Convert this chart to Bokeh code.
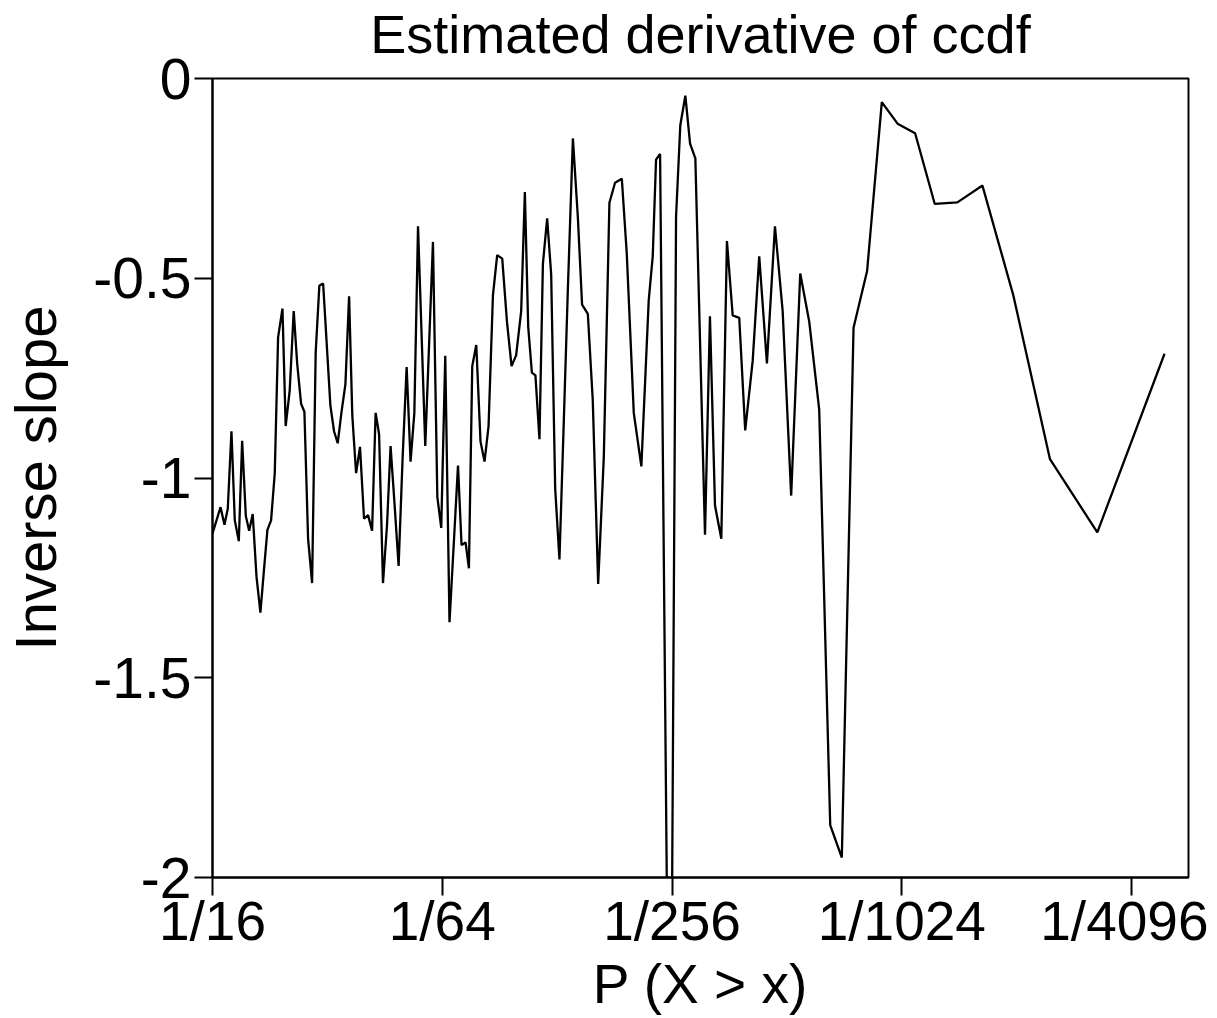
from bokeh.plotting import figure
from bokeh.models import Range1d, FixedTicker, LinearAxis
from bokeh.embed import file_html
from bokeh.resources import INLINE

# x: log2(1/P) ; y: inverse slope
log2_inv_p = [4.000, 4.070, 4.104, 4.133, 4.165, 4.194, 4.229, 4.258, 4.290, 4.319,
              4.350, 4.383, 4.417, 4.446, 4.478, 4.510, 4.542, 4.571, 4.609, 4.637,
              4.672, 4.707, 4.737, 4.771, 4.800, 4.832, 4.867, 4.898, 4.930, 4.963,
              5.026, 5.058, 5.090, 5.122, 5.157, 5.189, 5.217, 5.250, 5.284, 5.319,
              5.354, 5.389, 5.420, 5.450, 5.484, 5.519, 5.550, 5.585, 5.620, 5.655,
              5.690, 5.724, 5.757, 5.789, 5.852, 5.919, 5.957, 5.991, 6.026, 6.063,
              6.137, 6.168, 6.203, 6.232, 6.261, 6.296, 6.333, 6.368, 6.403, 6.441,
              6.478, 6.522, 6.563, 6.603, 6.643, 6.687, 6.719, 6.748, 6.780, 6.811,
              6.846, 6.876, 6.913, 6.948, 6.983, 7.020, 7.058, 7.093, 7.137, 7.180,
              7.217, 7.267, 7.310, 7.357, 7.406, 7.455, 7.504, 7.563, 7.606, 7.667,
              7.733, 7.797, 7.832, 7.861, 7.896, 7.983, 8.035, 8.072, 8.116, 8.157,
              8.203, 8.287, 8.330, 8.374, 8.429, 8.478, 8.528, 8.585, 8.637, 8.702,
              8.759, 8.826, 8.896, 8.963, 9.037, 9.116, 9.194, 9.281, 9.377, 9.478,
              9.580, 9.698, 9.826, 9.963, 10.116, 10.287, 10.484, 10.702, 10.971, 11.290,
              11.702, 12.287]

inverse_slope = [-1.139, -1.073, -1.117, -1.077, -0.883, -1.106, -1.158, -0.907, -1.095, -1.132,
                 -1.090, -1.247, -1.337, -1.237, -1.130, -1.106, -0.988, -0.648, -0.576, -0.870,
                 -0.781, -0.582, -0.713, -0.814, -0.834, -1.152, -1.263, -0.687, -0.519, -0.513,
                 -0.818, -0.883, -0.913, -0.837, -0.765, -0.545, -0.844, -0.988, -0.922, -1.102,
                 -1.093, -1.132, -0.837, -0.890, -1.263, -1.119, -0.920, -1.067, -1.220, -0.949,
                 -0.722, -0.959, -0.837, -0.370, -0.920, -0.409, -1.047, -1.125, -0.694, -1.361,
                 -0.969, -1.168, -1.161, -1.226, -0.720, -0.667, -0.909, -0.959, -0.870, -0.543,
                 -0.442, -0.451, -0.608, -0.720, -0.693, -0.582, -0.284, -0.621, -0.736, -0.743,
                 -0.903, -0.464, -0.350, -0.490, -1.027, -1.204, -0.857, -0.530, -0.150, -0.346,
                 -0.566, -0.589, -0.805, -1.265, -0.949, -0.311, -0.261, -0.251, -0.438, -0.837,
                 -0.971, -0.556, -0.445, -0.203, -0.189, -2.900, -0.346, -0.117, -0.043, -0.163,
                 -0.200, -1.142, -0.595, -1.069, -1.152, -0.407, -0.593, -0.599, -0.881, -0.707,
                 -0.445, -0.713, -0.370, -0.582, -1.044, -0.488, -0.608, -0.828, -1.869, -1.950,
                 -0.624, -0.482, -0.059, -0.113, -0.137, -0.314, -0.310, -0.268, -0.543, -0.953,
                 -1.136, -0.689]

x_ticks = [4, 6, 8, 10, 12]
x_tick_labels = ["1/16", "1/64", "1/256", "1/1024", "1/4096"]
y_ticks = [0, -0.5, -1, -1.5, -2]
y_tick_labels = ["0", "-0.5", "-1", "-1.5", "-2"]
title_text = "Estimated derivative of ccdf"

FONT = "Liberation Sans"
FRAME_W, FRAME_H = 977, 800

p = figure(width=1208, height=1017, output_backend="svg", toolbar_location=None,
           x_range=Range1d(4, 4 + FRAME_W / 115), y_range=Range1d(-2, 0),
           min_border_left=211, min_border_right=20, min_border_top=78, min_border_bottom=139)

p.line(log2_inv_p, inverse_slope, line_color="black", line_width=2.3)

xax = p.below[0]
yax = p.left[0]

# title: an empty axis above the frame whose axis label carries the title text
title_axis = LinearAxis(ticker=FixedTicker(ticks=[]), axis_label=title_text,
                        axis_line_color=None, major_tick_out=0, major_tick_in=0,
                        minor_tick_out=0, minor_tick_in=0, major_label_standoff=0,
                        axis_label_standoff=15,
                        axis_label_text_font=FONT, axis_label_text_font_size="54px",
                        axis_label_text_font_style="normal", axis_label_text_color="black")
p.add_layout(title_axis, "above")

p.xgrid.visible = False
p.ygrid.visible = False
p.outline_line_color = "black"
p.outline_line_width = 2
p.outline_line_alpha = 1

xax.ticker = FixedTicker(ticks=x_ticks)
xax.major_label_overrides = dict(zip(x_ticks, x_tick_labels))
yax.ticker = FixedTicker(ticks=y_ticks)
yax.major_label_overrides = dict(zip(y_ticks, y_tick_labels))

xax.axis_label = "P (X > x)"
yax.axis_label = "Inverse slope"

for ax in (xax, yax):
    ax.axis_line_width = 2
    ax.axis_line_color = "black"
    ax.major_tick_line_width = 2
    ax.major_tick_line_color = "black"
    ax.major_tick_out = 18
    ax.major_tick_in = 0
    ax.minor_tick_out = 0
    ax.minor_tick_in = 0
    ax.major_label_text_font = FONT
    ax.major_label_text_color = "black"
    ax.axis_label_text_font = FONT
    ax.axis_label_text_font_style = "normal"
    ax.axis_label_text_color = "black"

xax.major_label_text_font_size = "55px"
xax.axis_label_text_font_size = "55px"
yax.major_label_text_font_size = "57px"
yax.axis_label_text_font_size = "58px"

xax.major_label_standoff = -6
xax.axis_label_standoff = -2
yax.major_label_standoff = 3
yax.axis_label_standoff = 22

open("out.html", "w").write(file_html(p, INLINE))
